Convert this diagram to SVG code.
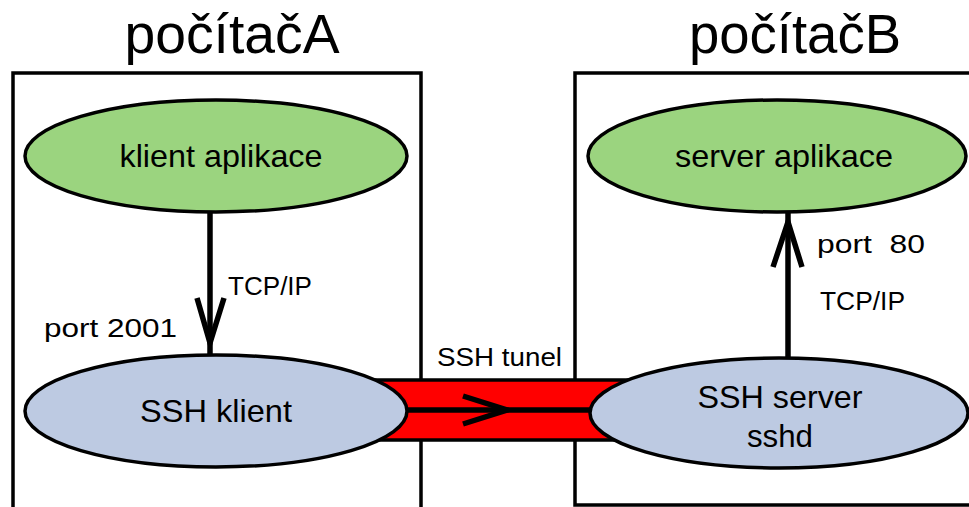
<svg xmlns="http://www.w3.org/2000/svg" width="969" height="507" viewBox="0 0 969 507">
  <style>
    .box { fill: none; stroke: #000; stroke-width: 3.5; }
    .app { fill: #9bd47f; stroke: #000; stroke-width: 3.5; }
    .ssh { fill: #bdcae2; stroke: #000; stroke-width: 3.5; }
    .link { fill: none; stroke: #000; stroke-width: 5.5; }
    .head { fill: none; stroke: #000; stroke-width: 5.5; stroke-linejoin: miter; }
    text { font-family: "Liberation Sans", Arial, sans-serif; fill: #000; }
    .title { font-size: 55px; text-anchor: middle; }
    .node { font-size: 32px; text-anchor: middle; }
    .lbl { font-size: 26px; }
  </style>
  <rect width="969" height="507" fill="#fff"/>

  <!-- computer boxes -->
  <g id="pocitacA">
    <path class="box" d="M13,510 V73 H421 V510"/>
    <text class="title" x="232" y="53" textLength="215" lengthAdjust="spacingAndGlyphs">počítačA</text>
  </g>
  <g id="pocitacB">
    <rect class="box" x="575" y="73" width="420" height="432"/>
    <text class="title" x="795" y="53" textLength="212" lengthAdjust="spacingAndGlyphs">počítačB</text>
  </g>

  <!-- connectors -->
  <g id="connectors">
    <!-- SSH tunnel band -->
    <rect x="370" y="380" width="262" height="60" fill="#ff0000" stroke="#000" stroke-width="3.5"/>
    <line class="link" x1="400" y1="410" x2="595" y2="410"/>
    <polyline class="head" points="463,396 507,410 463,424"/>
    <!-- client app to SSH client -->
    <line class="link" x1="210" y1="212" x2="210" y2="356"/>
    <polyline class="head" points="197,298 210,343 224,298"/>
    <!-- SSH server to server app -->
    <line class="link" x1="788" y1="212" x2="788" y2="358"/>
    <polyline class="head" points="773,267 788,222 802,267"/>
    <text class="lbl" x="437" y="366" font-size="27" textLength="125" lengthAdjust="spacingAndGlyphs">SSH tunel</text>
    <text class="lbl" x="228" y="295" textLength="84" lengthAdjust="spacingAndGlyphs">TCP/IP</text>
    <text class="lbl" x="44" y="337" font-size="31" textLength="133" lengthAdjust="spacingAndGlyphs">port 2001</text>
    <text class="lbl" x="817" y="253" font-size="31" textLength="108" lengthAdjust="spacingAndGlyphs" xml:space="preserve">port  80</text>
    <text class="lbl" x="820" y="310" textLength="85" lengthAdjust="spacingAndGlyphs">TCP/IP</text>
  </g>

  <!-- nodes -->
  <g id="klient-aplikace">
    <ellipse class="app" cx="216" cy="156" rx="191" ry="56"/>
    <text class="node" x="221" y="167" textLength="203" lengthAdjust="spacingAndGlyphs">klient aplikace</text>
  </g>
  <g id="server-aplikace">
    <ellipse class="app" cx="777" cy="156" rx="189" ry="56"/>
    <text class="node" x="784" y="167" textLength="218" lengthAdjust="spacingAndGlyphs">server aplikace</text>
  </g>
  <g id="ssh-klient">
    <ellipse class="ssh" cx="216" cy="411" rx="191" ry="56"/>
    <text class="node" x="216" y="422" textLength="152" lengthAdjust="spacingAndGlyphs">SSH klient</text>
  </g>
  <g id="ssh-server">
    <ellipse class="ssh" cx="779" cy="413" rx="189" ry="55"/>
    <text class="node" x="780" y="408" textLength="165" lengthAdjust="spacingAndGlyphs">SSH server</text>
    <text class="node" x="780" y="447" textLength="66" lengthAdjust="spacingAndGlyphs">sshd</text>
  </g>
</svg>
